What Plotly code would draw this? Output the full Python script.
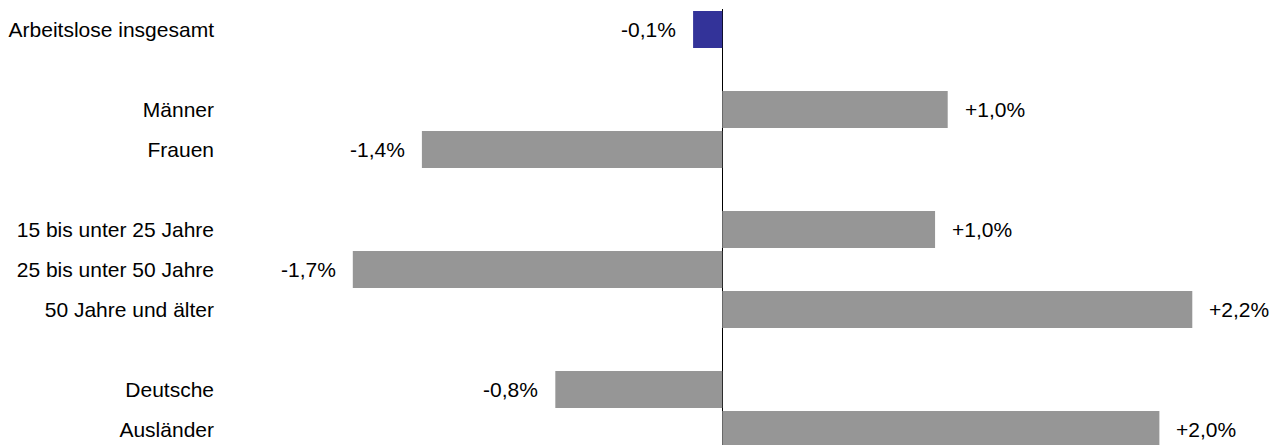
import plotly.graph_objects as go

# Data (Veränderung gegenüber Vorjahr in %)
groups = [
    ["Arbeitslose insgesamt"],
    ["Männer", "Frauen"],
    ["15 bis unter 25 Jahre", "25 bis unter 50 Jahre", "50 Jahre und älter"],
    ["Deutsche", "Ausländer"],
]
categories = [c for g in groups for c in g]
values = [-0.134, 1.034, -1.378, 0.976, -1.695, 2.156, -0.766, 2.005]
highlight = ["Arbeitslose insgesamt"]

# Category order with blank spacer rows between groups
order = []
for i, g in enumerate(groups):
    if i > 0:
        order.append(" " * i)
    order.extend(g)

def fmt(v):
    return f"{v:+.1f}".replace(".", ",") + "%"

labels = [fmt(v) for v in values]
colors = ["#333399" if c in highlight else "#969696" for c in categories]

FONT = "Liberation Sans, Arial, sans-serif"
FS = 21

fig = go.Figure(
    go.Bar(
        x=values,
        y=categories,
        orientation="h",
        marker=dict(color=colors, line=dict(width=0)),
        hoverinfo="skip",
    )
)

for c, v, t in zip(categories, values, labels):
    fig.add_annotation(
        x=v, y=c, xref="x", yref="y", text=t, showarrow=False,
        xanchor="left" if v >= 0 else "right",
        xshift=15 if v >= 0 else -15,
        font=dict(family=FONT, size=FS, color="#000000"),
    )

fig.update_layout(
    width=1279, height=445,
    margin=dict(l=214, r=8, t=1, b=8),
    paper_bgcolor="white", plot_bgcolor="white",
    bargap=0.075,
    showlegend=False,
    font=dict(family=FONT, size=FS, color="#000000"),
    xaxis=dict(
        range=[-2.2950, 2.5537],
        showgrid=False, showticklabels=False, ticks="",
        zeroline=True, zerolinecolor="#000000", zerolinewidth=1,
        showline=False, fixedrange=True,
    ),
    yaxis=dict(
        type="category",
        categoryorder="array", categoryarray=order,
        range=[10.3875, -0.5125],
        showgrid=False, zeroline=False, showline=False, ticks="",
        ticklabelstandoff=7,
        tickfont=dict(family=FONT, size=FS, color="#000000"),
        fixedrange=True,
    ),
)

fig.write_html("out.html")
